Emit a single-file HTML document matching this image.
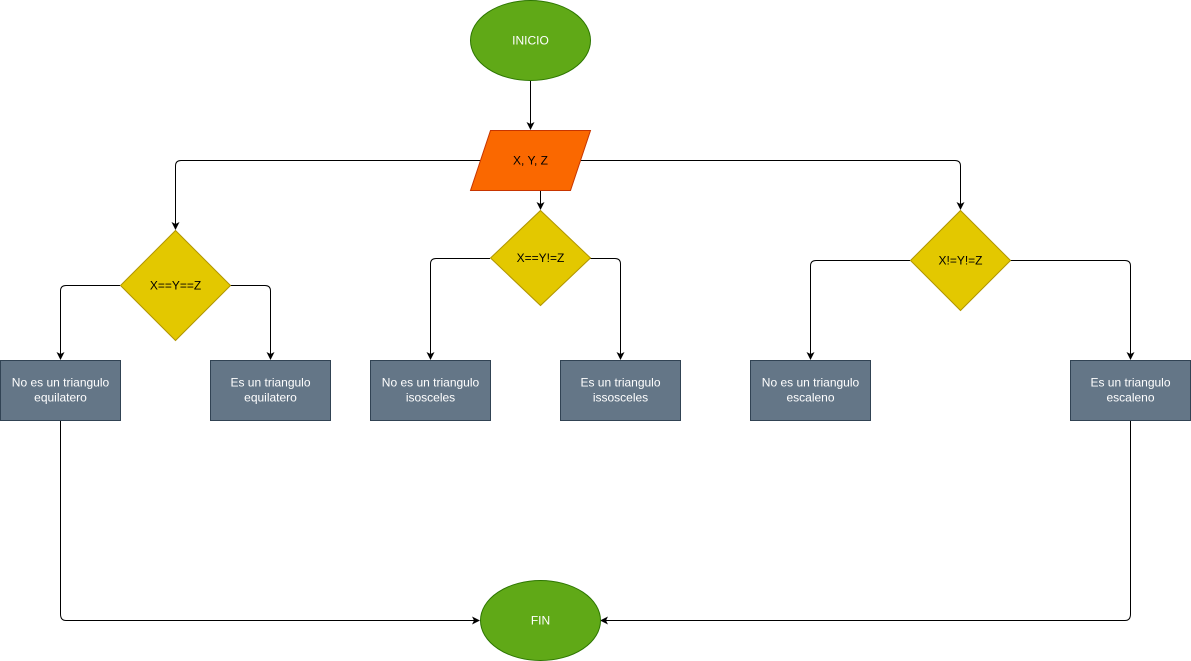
<!DOCTYPE html>
<html><head><meta charset="utf-8"><style>
html,body{margin:0;padding:0;background:#fff;}
svg{display:block;}
text{font-family:"Liberation Sans",sans-serif;font-size:12px;}
</style></head><body>
<svg width="1191" height="661" viewBox="0 0 1191 661" xmlns="http://www.w3.org/2000/svg">
<defs>
<marker id="a" markerWidth="10" markerHeight="10" refX="8" refY="5" orient="auto" markerUnits="userSpaceOnUse">
<path d="M1,1 L9,5 L1,9 L3,5 Z" fill="#000"/>
</marker>
</defs>
<g fill="none" stroke="#000" stroke-width="1" marker-end="url(#a)">
<path d="M530.5,80 V129"/>
<path d="M482,160.5 H181 Q175.5,160.5 175.5,166 V229"/>
<path d="M580,160.5 H955 Q960.5,160.5 960.5,166 V209"/>
<path d="M540.5,190 V209"/>
<path d="M120,285.5 H66 Q60.5,285.5 60.5,291 V359"/>
<path d="M230,285.5 H265 Q270.5,285.5 270.5,291 V359"/>
<path d="M490,258.5 H436 Q430.5,258.5 430.5,264 V359"/>
<path d="M590,258.5 H615 Q620.5,258.5 620.5,264 V359"/>
<path d="M910,260.5 H816 Q810.5,260.5 810.5,266 V359"/>
<path d="M1010,260.5 H1125 Q1130.5,260.5 1130.5,266 V359"/>
<path d="M60.5,420 V614 Q60.5,620.5 66,620.5 H479"/>
<path d="M1130.5,420 V614 Q1130.5,620.5 1125,620.5 H601"/>
</g>
<ellipse cx="530.5" cy="40.5" rx="60" ry="40" fill="#60a917" stroke="#2d7600"/>
<text x="530.5" y="44.5" text-anchor="middle" fill="#fff">INICIO</text>
<ellipse cx="540.5" cy="620.5" rx="60" ry="40" fill="#60a917" stroke="#2d7600"/>
<text x="540.5" y="624.5" text-anchor="middle" fill="#fff">FIN</text>
<polygon points="490.5,130.5 590.5,130.5 570.5,190.5 470.5,190.5" fill="#fa6800" stroke="#c73500"/>
<text x="530.5" y="164.5" text-anchor="middle" fill="#000">X, Y, Z</text>
<polygon points="175.5,230.5 230.5,285.5 175.5,340.5 120.5,285.5" fill="#e3c800" stroke="#b09500"/>
<text x="175.5" y="289.5" text-anchor="middle" fill="#000">X==Y==Z</text>
<polygon points="540.5,210.5 590.5,258 540.5,305.5 490.5,258" fill="#e3c800" stroke="#b09500"/>
<text x="540.5" y="262" text-anchor="middle" fill="#000">X==Y!=Z</text>
<polygon points="960.5,210.5 1010.5,260.5 960.5,310.5 910.5,260.5" fill="#e3c800" stroke="#b09500"/>
<text x="960.5" y="264.5" text-anchor="middle" fill="#000">X!=Y!=Z</text>
<g fill="#647687" stroke="#314354">
<rect x="0.5" y="360.5" width="120" height="60"/>
<rect x="210.5" y="360.5" width="120" height="60"/>
<rect x="370.5" y="360.5" width="120" height="60"/>
<rect x="560.5" y="360.5" width="120" height="60"/>
<rect x="750.5" y="360.5" width="120" height="60"/>
<rect x="1070.5" y="360.5" width="120" height="60"/>
</g>
<g fill="#fff" text-anchor="middle">
<text x="60.5" y="386.5">No es un triangulo</text><text x="60.5" y="401.5">equilatero</text>
<text x="270.5" y="386.5">Es un triangulo</text><text x="270.5" y="401.5">equilatero</text>
<text x="430.5" y="386.5">No es un triangulo</text><text x="430.5" y="401.5">isosceles</text>
<text x="620.5" y="386.5">Es un triangulo</text><text x="620.5" y="401.5">issosceles</text>
<text x="810.5" y="386.5">No es un triangulo</text><text x="810.5" y="401.5">escaleno</text>
<text x="1130.5" y="386.5">Es un triangulo</text><text x="1130.5" y="401.5">escaleno</text>
</g>
</svg>
</body></html>
